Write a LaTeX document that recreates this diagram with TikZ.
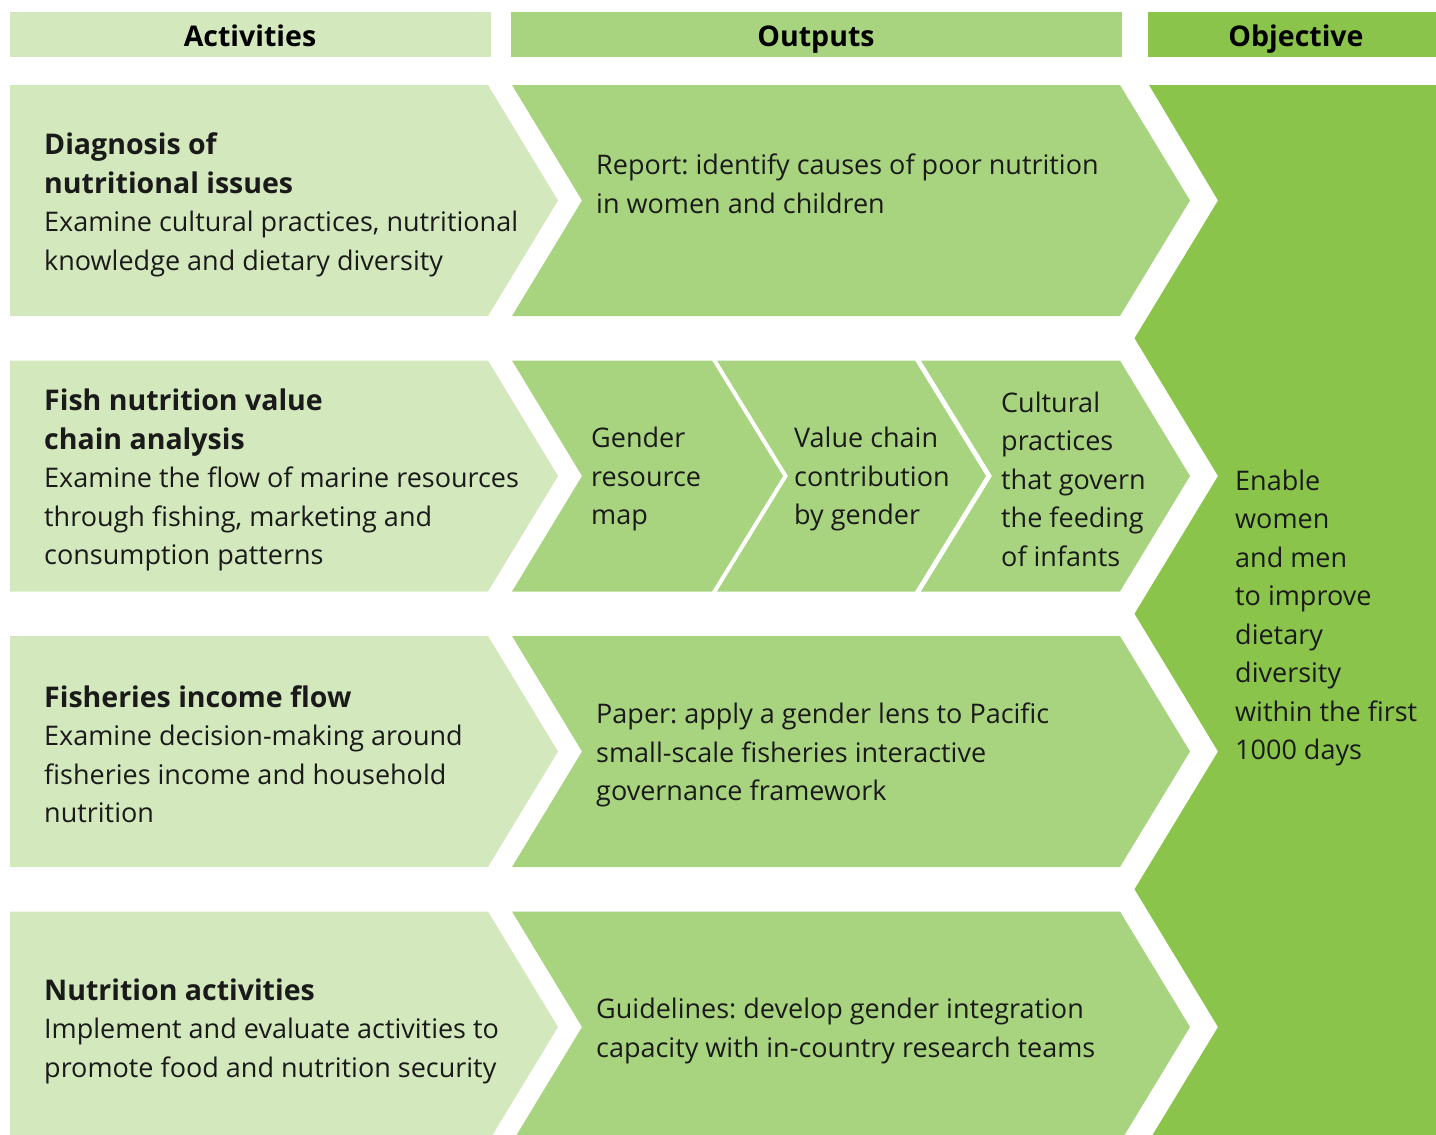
\documentclass[tikz,border=0pt]{standalone}
\usepackage{fontspec}
\setmainfont{Open Sans}
\frenchspacing
\definecolor{actc}{HTML}{D3E8BC}
\definecolor{outc}{HTML}{A9D47F}
\definecolor{objc}{HTML}{8AC44B}
\definecolor{txt}{HTML}{1A1A1A}
\newcommand{\hdline}[1]{{\fontsize{28.5}{38.5}\selectfont\bfseries #1}}
\begin{document}
\begin{tikzpicture}[x=1pt,y=-1pt,
  body/.style={anchor=west,align=left,inner sep=0pt,text=txt,font=\fontsize{27}{38.5}\selectfont},
  head/.style={anchor=base,inner sep=0pt,text=black,font=\fontsize{28.5}{30}\selectfont\bfseries}]
\useasboundingbox (0,0) rectangle (1436,1135);
\clip (0,0) rectangle (1436,1135);
% headers
\fill[actc] (10,12) rectangle (491,57);
\fill[outc] (511,12) rectangle (1122,57);
\fill[objc] (1148,12) rectangle (1436,57);
\node[head] (hA) at (250,46) {Activities};
\node[head] (hO) at (816,46) {Outputs};
\node[head] (hJ) at (1296,46) {Objective};
% rows
\foreach \c in {200.5,476,751.5,1027}{
  \fill[actc] (10,\c-115.5) -- (488,\c-115.5) -- (558,\c) -- (488,\c+115.5) -- (10,\c+115.5) -- cycle;
}
\foreach \c in {200.5,751.5,1027}{
  \fill[outc] (512,\c-115.5) -- (1120,\c-115.5) -- (1190,\c) -- (1120,\c+115.5) -- (512,\c+115.5) -- (582,\c) -- cycle;
}
\fill[outc] (512,360.5) -- (712,360.5) -- (783,476) -- (712,591.5) -- (512,591.5) -- (582,476) -- cycle;
\fill[outc] (717,360.5) -- (915,360.5) -- (986,476) -- (915,591.5) -- (717,591.5) -- (788,476) -- cycle;
\fill[outc] (921,360.5) -- (1120,360.5) -- (1190,476) -- (1120,591.5) -- (921,591.5) -- (992,476) -- cycle;
% objective
\fill[objc] (1436,85) -- (1149,85) -- (1218,200.5) -- (1134.5,338.25) -- (1218,476) -- (1134.5,613.75) -- (1218,751.5) -- (1134.5,889.25) -- (1218,1027) -- (1152.5,1135) -- (1436,1135) -- cycle;
% texts
\node[body] (a1) at (44,205) {\hdline{Diagnosis of}\\\hdline{nutritional issues}\\Examine cultural practices, nutritional\\knowledge and dietary diversity};
\node[body] (o1) at (596,184) {Report: identify causes of poor nutrition\\in women and children};
\node[body] (a2) at (44,480) {\hdline{Fish nutrition value}\\\hdline{chain analysis}\\Examine the flow of marine resources\\through fishing, marketing and\\consumption patterns};
\node[body] (o2a) at (591,479) {Gender\\resource\\map};
\node[body] (o2b) at (794,479) {Value chain\\contribution\\by gender};
\node[body] (o2c) at (1001,479) {Cultural\\practices\\that govern\\the feeding\\of infants};
\node[body] (a3) at (44,754) {\hdline{Fisheries income flow}\\Examine decision-making around\\fisheries income and household\\nutrition};
\node[body] (o3) at (596,755) {Paper: apply a gender lens to Pacific\\small-scale fisheries interactive\\governance framework};
\node[body] (a4) at (44,1031) {\hdline{Nutrition activities}\\Implement and evaluate activities to\\promote food and nutrition security};
\node[body] (o4) at (596,1031) {Guidelines: develop gender integration\\capacity with in-country research teams};
\node[body] (ob) at (1235,618) {Enable\\women\\and men\\to improve\\dietary\\diversity\\within the first\\1000 days};
\end{tikzpicture}
\end{document}
